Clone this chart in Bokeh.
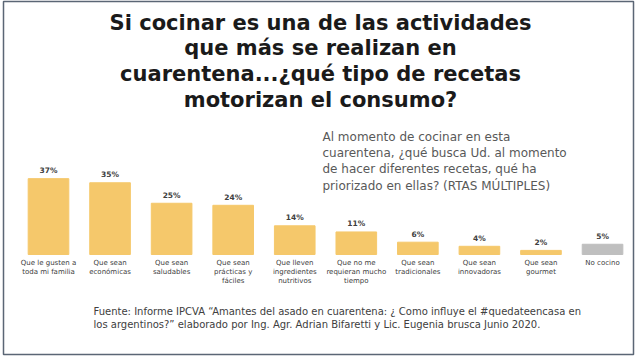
from bokeh.plotting import figure
from bokeh.models import ColumnDataSource, Range1d, Label
from bokeh.embed import file_html
from bokeh.resources import INLINE
from bokeh.core.properties import value

# ---- data ----
categories = [
    "Que le gusten a\ntoda mi familia",
    "Que sean\neconómicas",
    "Que sean\nsaludables",
    "Que sean\nprácticas y\nfáciles",
    "Que lleven\ningredientes\nnutritivos",
    "Que no me\nrequieran mucho\ntiempo",
    "Que sean\ntradicionales",
    "Que sean\ninnovadoras",
    "Que sean\ngourmet",
    "No cocino",
]
values = [37, 35, 25, 24, 14, 11, 6, 4, 2, 5]
is_other = [False] * 9 + [True]

title_lines = [
    "Si cocinar es una de las actividades",
    "que más se realizan en",
    "cuarentena...¿qué tipo de recetas",
    "motorizan el consumo?",
]
subtitle_lines = [
    "Al momento de cocinar en esta",
    "cuarentena, ¿qué busca Ud. al momento",
    "de hacer diferentes recetas, qué ha",
    "priorizado en ellas? (RTAS MÚLTIPLES)",
]
source_lines = [
    "Fuente: Informe IPCVA \u201cAmantes del asado en cuarentena: \u00bf Como influye el #quedateencasa  en",
    "los argentinos?\u201d elaborado por  Ing. Agr. Adrian Bifaretti y Lic. Eugenia brusca Junio 2020.",
]

# ---- layout helpers (pixel -> data) ----
W, H = 640, 357
LEFT, RIGHT, TOP, BOTTOM = 3, 7, 1, 3
PX_PER_X = 61.56
PX_PER_Y = 2.05
BASE_PY = 254
FIRST_BAR_PX = 48
X0 = -(FIRST_BAR_PX - LEFT) / PX_PER_X


def X(px):
    return X0 + (px - LEFT) / PX_PER_X


def Y(py):
    return (BASE_PY - py) / PX_PER_Y


p = figure(
    width=W, height=H, output_backend="svg", toolbar_location=None,
    x_axis_location=None, y_axis_location=None,
    min_border_left=LEFT, min_border_right=RIGHT,
    min_border_top=TOP, min_border_bottom=BOTTOM,
    x_range=Range1d(X(LEFT), X(W - RIGHT)),
    y_range=Range1d(Y(H - BOTTOM), Y(TOP)),
)
p.grid.visible = False
p.outline_line_color = "#5b6675"
p.outline_line_width = 1.5
p.background_fill_color = "white"
p.border_fill_color = "white"

xs = list(range(len(categories)))
colors = ["#bfbfbf" if o else "#f5c86b" for o in is_other]
src = ColumnDataSource(dict(
    x=xs, top=values, color=colors,
    lab=[f"{v}%" for v in values],
    ly=[v + 1.8 for v in values],
))
p.vbar(x="x", top="top", bottom=0, width=0.66, color="color", source=src)
p.text(x="x", y="ly", text="lab", source=src, text_align="center",
       text_baseline="bottom", text_font=value("DejaVu Sans"),
       text_font_size="7.5px", text_font_style="bold", text_color="#404040")

# category labels, one glyph row per line
cx, cy, ct = [], [], []
for i, c in enumerate(categories):
    for j, line in enumerate(c.split("\n")):
        cx.append(i)
        cy.append(Y(262.5 + 9 * j))
        ct.append(line)
p.text(x=cx, y=cy, text=ct, text_align="center", text_baseline="middle",
       text_font=value("DejaVu Sans"), text_font_size="7px",
       text_color="#404040")

# title
for j, line in enumerate(title_lines):
    p.add_layout(Label(x=X(320), y=Y(22 + 25.7 * j), text=line,
                       text_align="center", text_baseline="middle",
                       text_font="DejaVu Sans", text_font_size="21px",
                       text_font_style="bold", text_color="#1a1a1a"))

# subtitle
for j, line in enumerate(subtitle_lines):
    p.add_layout(Label(x=X(322), y=Y(136 + 16.4 * j), text=line,
                       text_align="left", text_baseline="middle",
                       text_font="DejaVu Sans", text_font_size="12px",
                       text_color="#595959"))

# source
for j, line in enumerate(source_lines):
    p.add_layout(Label(x=X(93), y=Y(311 + 13 * j), text=line,
                       text_align="left", text_baseline="middle",
                       text_font="DejaVu Sans", text_font_size="10px",
                       text_color="#404040"))

open("out.html", "w").write(file_html(p, INLINE))
